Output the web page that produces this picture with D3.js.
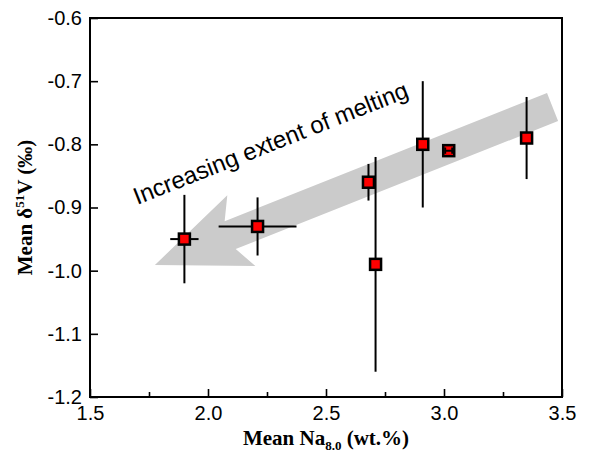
<!DOCTYPE html>
<html>
<head>
<meta charset="utf-8">
<script src="https://cdn.jsdelivr.net/npm/d3@7"></script>
<style>
  body { margin: 0; background: #fff; }
  svg { display: block; }
</style>
</head>
<body>
<div id="chart"></div>
<script>
// sample means with error bars (Na8.0 wt.%, delta51V permil)
const naMean   = [1.90, 2.21, 2.68, 2.71, 2.91, 3.02, 3.35];
const naErr    = [0.06, 0.165, 0, 0, 0, 0.015, 0];
const d51V     = [-0.95, -0.93, -0.86, -0.99, -0.80, -0.81, -0.79];
const d51VErr  = [0.07, 0.046, 0.029, 0.17, 0.10, 0.005, 0.065];

const xTicks = [1.5, 2.0, 2.5, 3.0, 3.5];
const xMinor = [1.75, 2.25, 2.75, 3.25];
const yTicks = [-0.6, -0.7, -0.8, -0.9, -1.0, -1.1, -1.2];

// arrow annotation, in data units (tail -> tip)
const arrowTail = [3.46, -0.741];
const arrowTip  = [1.775, -0.991];
const labelPos  = [1.70, -0.896];
const labelText = "Increasing extent of melting";

const points = naMean.map((x, i) => ({x: x, y: d51V[i], ex: naErr[i], ey: d51VErr[i]}));

const margin = {top: 18, right: 27, bottom: 56, left: 90},
    width = 589 - margin.left - margin.right,
    height = 453 - margin.top - margin.bottom;

const svg = d3.select("#chart")
  .append("svg")
    .attr("width", 589)
    .attr("height", 453)
  .append("g")
    .attr("transform", `translate(${margin.left},${margin.top})`);

const x = d3.scaleLinear().domain([1.5, 3.5]).range([0, width]);
const y = d3.scaleLinear().domain([-1.2, -0.6]).range([height, 0]);

// big grey arrow
const tx = x(arrowTail[0]), ty = y(arrowTail[1]);
const px = x(arrowTip[0]), py = y(arrowTip[1]);
const len = Math.hypot(px - tx, py - ty);
const ang = Math.atan2(py - ty, px - tx) * 180 / Math.PI;
const hw = 15, headW = 38, headL = 93, neck = 81;
const arrowPts = [[0, -hw], [len - neck, -hw], [len - headL, -headW], [len, 0],
                  [len - headL, headW], [len - neck, hw], [0, hw]];
svg.append("polygon")
    .attr("points", arrowPts.map(p => p.join(",")).join(" "))
    .attr("transform", `translate(${tx},${ty}) rotate(${ang})`)
    .attr("fill", "#cbcbcb");

// label reads left to right, parallel to the arrow
svg.append("text")
    .attr("transform", `translate(${x(labelPos[0])},${y(labelPos[1])}) rotate(${ang - 180})`)
    .attr("font-family", "Liberation Sans, Arial, sans-serif")
    .attr("font-size", "24px")
    .attr("fill", "#000")
    .text(labelText);

// axes with inward ticks
const fmt = d => d.toFixed(1);
svg.append("g")
    .attr("transform", `translate(0,${height})`)
    .call(d3.axisBottom(x).tickValues(xTicks).tickSize(-8).tickPadding(9).tickFormat(fmt))
    .call(g => g.select(".domain").remove());
svg.append("g")
    .attr("transform", `translate(0,${height})`)
    .call(d3.axisBottom(x).tickValues(xMinor).tickSize(-5).tickFormat(""))
    .call(g => g.select(".domain").remove());
svg.append("g")
    .call(d3.axisLeft(y).tickValues(yTicks).tickSize(-8).tickPadding(8).tickFormat(fmt))
    .call(g => g.select(".domain").remove());

svg.selectAll(".tick line").attr("stroke", "#000").attr("stroke-width", 1.6);
svg.selectAll(".tick text")
    .attr("font-family", "Liberation Sans, Arial, sans-serif")
    .attr("font-size", "20px")
    .attr("fill", "#000");

// frame
svg.append("rect")
    .attr("width", width)
    .attr("height", height)
    .attr("fill", "none")
    .attr("stroke", "#000")
    .attr("stroke-width", 2);

// error bars
const bars = svg.append("g").attr("stroke", "#000").attr("stroke-width", 2);
bars.selectAll(".ey")
  .data(points.filter(d => d.ey > 0))
  .join("line")
    .attr("x1", d => x(d.x)).attr("x2", d => x(d.x))
    .attr("y1", d => y(d.y + d.ey)).attr("y2", d => y(d.y - d.ey));
bars.selectAll(".ex")
  .data(points.filter(d => d.ex > 0))
  .join("line")
    .attr("x1", d => x(d.x - d.ex)).attr("x2", d => x(d.x + d.ex))
    .attr("y1", d => y(d.y)).attr("y2", d => y(d.y));

// squares
const s = 11;
svg.append("g")
  .selectAll("rect")
  .data(points)
  .join("rect")
    .attr("x", d => x(d.x) - s / 2)
    .attr("y", d => y(d.y) - s / 2)
    .attr("width", s)
    .attr("height", s)
    .attr("fill", "#ff0000")
    .attr("stroke", "#000")
    .attr("stroke-width", 2.5);

// the tiny error bars of one point sit on top of its marker
svg.append("g").attr("stroke", "#000").attr("stroke-width", 2)
  .selectAll("path")
  .data(points.filter(d => d.ey > 0 && d.ey < 0.01))
  .join("path")
    .attr("d", d => `M${x(d.x - d.ex)},${y(d.y + d.ey)}V${y(d.y - d.ey)}` +
                    `M${x(d.x + d.ex)},${y(d.y + d.ey)}V${y(d.y - d.ey)}` +
                    `M${x(d.x - d.ex)},${y(d.y)}H${x(d.x + d.ex)}`);

// axis titles
const xt = svg.append("text")
    .attr("x", width / 2)
    .attr("y", height + 48)
    .attr("text-anchor", "middle")
    .attr("font-family", "Liberation Serif, Times New Roman, serif")
    .attr("font-weight", "bold")
    .attr("font-size", "21px");
xt.append("tspan").text("Mean Na");
xt.append("tspan").attr("font-size", "13px").attr("dy", "5").text("8.0");
xt.append("tspan").attr("dy", "-5").text(" (wt.%)");

const yt = svg.append("text")
    .attr("transform", `translate(${-58},${height / 2}) rotate(-90)`)
    .attr("text-anchor", "middle")
    .attr("font-family", "Liberation Serif, Times New Roman, serif")
    .attr("font-weight", "bold")
    .attr("font-size", "21px");
yt.append("tspan").text("Mean δ");
yt.append("tspan").attr("font-size", "13px").attr("dy", "-8").text("51");
yt.append("tspan").attr("dy", "8").text("V (‰)");
</script>
</body>
</html>
